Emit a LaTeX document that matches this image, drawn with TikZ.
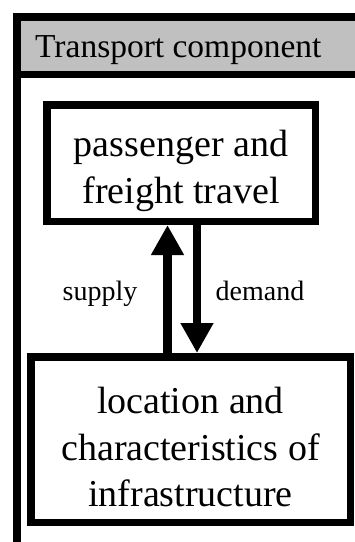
\documentclass[tikz,border=0pt]{standalone}
\usepackage{fontspec}
\setmainfont{Liberation Serif}
\usetikzlibrary{arrows.meta}
\definecolor{bandgray}{HTML}{C0C0C0}
\newcommand{\firststrut}{\rule{0pt}{42pt}}
\begin{document}
\begin{tikzpicture}[x=1pt,y=-1pt,
  frameline/.style={line width=7.5pt},
  box/.style={draw, line width=7.5pt, outer sep=3.75pt, inner sep=0pt, align=center, font=\fontsize{38}{46.5}\selectfont},
  lab/.style={font=\fontsize{28}{32}\selectfont, inner sep=0pt},
  arr/.style={line width=8.5pt, -{Triangle[width=31pt,length=30pt]}}]
\useasboundingbox (0,0) rectangle (355,542);
\begin{scope}
\clip (0,0) rectangle (355,542);
\fill[bandgray] (17,17) rectangle (400,74.5);
\draw[line width=7pt] (17,74.5) -- (400,74.5);
\draw[frameline] (17,600) -- (17,17) -- (400,17);
\end{scope}
\node[anchor=base west, inner sep=0pt, font=\fontsize{33.5}{40}\selectfont] (title) at (35,57) {Transport component};
\node[box, minimum width=268.5pt, minimum height=116.5pt] (travel) at (181,163) {\firststrut passenger and\\freight travel};
\node[box, minimum width=319.5pt, minimum height=165.5pt] (infra) at (190.5,439.5) {\firststrut location and\\characteristics of\\infrastructure};
\coordinate (sx) at (167.5,0);
\coordinate (dx) at (197,0);
\draw[arr] (sx |- infra.north) -- (sx |- travel.south);
\draw[arr] (dx |- travel.south) -- (dx |- infra.north);
\node[lab, anchor=base] (supply) at (100,300) {supply};
\node[lab, anchor=base] (demand) at (260,300) {demand};
\end{tikzpicture}
\end{document}
